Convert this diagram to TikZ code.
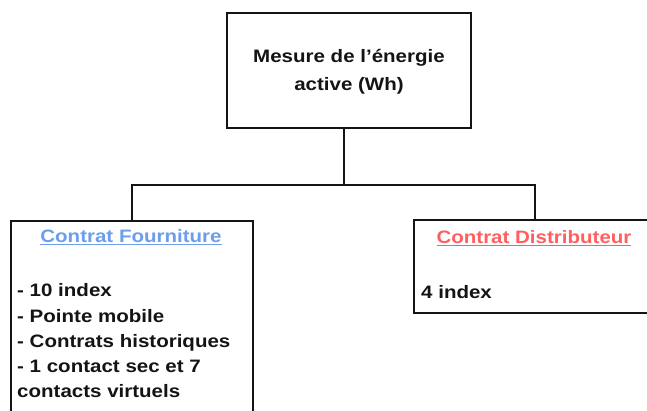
\documentclass[tikz,border=0pt]{standalone}
\usepackage{fontspec}
\setmainfont{Liberation Sans}[FakeStretch=1.14]
\definecolor{fblue}{RGB}{109,158,235}
\definecolor{dred}{RGB}{255,95,95}
\definecolor{ink}{RGB}{20,20,20}
\begin{document}
\begin{tikzpicture}[x=1pt,y=1pt,
  box/.style={draw=ink, line width=1.8pt, fill=white, inner sep=0pt},
  conn/.style={draw=ink, line width=1.8pt},
  txt/.style={inner sep=0pt, text=ink, font=\fontsize{18}{22}\selectfont\bfseries},
  ]
\useasboundingbox (0,0) rectangle (647,-410);
\clip (0,0) rectangle (647,-410);
\node[box, minimum width=244pt, minimum height=115pt] (top) at (349,-70.5) {};
\node[box, minimum width=242pt, minimum height=220pt, anchor=north west] (left) at (10,-220) {};
\node[box, minimum width=242pt, minimum height=93pt, anchor=north west] (right) at (413,-219) {};
\coordinate (j) at (344,-185);
\draw[conn] (top.south -| j) -- (j);
\draw[conn] (left.north) |- (j) -| (right.north);
\node[txt, anchor=base] (t1) at (349,-62.7) {Mesure de l’énergie};
\node[txt, anchor=base] (t2) at (349,-90) {active (Wh)};
\node[txt, anchor=base, text=fblue] (lt) at (131,-242.7) {\underline{Contrat Fourniture}};
\node[txt, anchor=base, text=dred] (rt) at (534,-243.3) {\underline{Contrat Distributeur}};
\node[txt, anchor=base west] (l1) at (17,-296.7) {- 10 index};
\node[txt, anchor=base west] (l2) at (17,-322) {- Pointe mobile};
\node[txt, anchor=base west] (l3) at (17,-347.3) {- Contrats historiques};
\node[txt, anchor=base west] (l4) at (17,-372.6) {- 1 contact sec et 7};
\node[txt, anchor=base west] (l5) at (17,-397.8) {contacts virtuels};
\node[txt, anchor=base west] (r1) at (421,-298.3) {4 index};
\end{tikzpicture}
\end{document}
